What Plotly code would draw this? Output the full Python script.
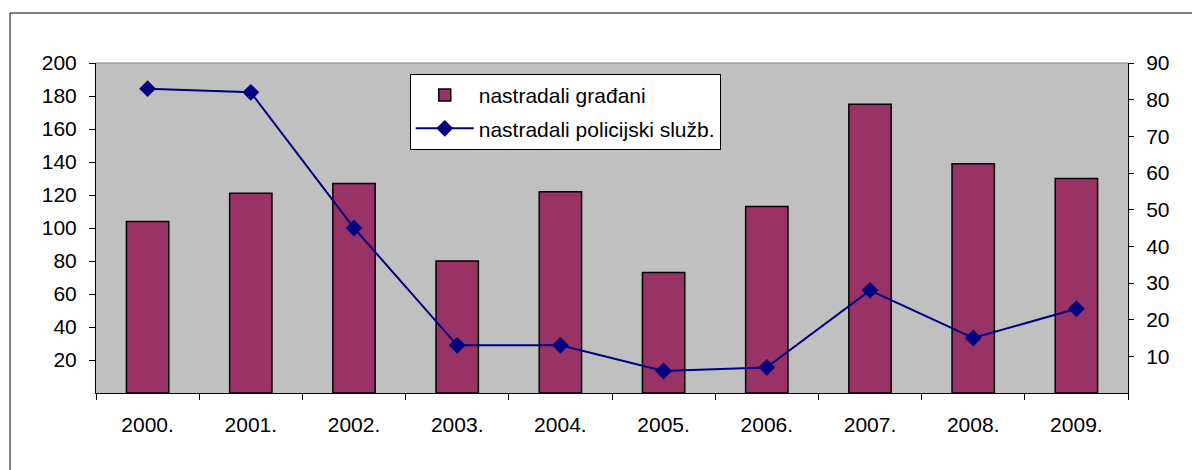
import plotly.graph_objects as go

years = ["2000.", "2001.", "2002.", "2003.", "2004.", "2005.", "2006.", "2007.", "2008.", "2009."]
gradjani = [104, 121, 127, 80, 122, 73, 113, 175, 139, 130]
policija = [83, 82, 45, 13, 13, 6, 7, 28, 15, 23]

left_ticks = [20, 40, 60, 80, 100, 120, 140, 160, 180, 200]
right_ticks = [10, 20, 30, 40, 50, 60, 70, 80, 90]

BAR_COLOR = "#993366"
LINE_COLOR = "#000080"
FONT = "Liberation Sans, Arial, sans-serif"

fig = go.Figure()
fig.add_trace(
    go.Bar(
        x=years,
        y=gradjani,
        name="nastradali građani",
        legendgroup="g",
        marker={"color": BAR_COLOR, "line": {"color": "black", "width": 1.5}},
        yaxis="y",
    )
)
fig.add_trace(
    go.Scatter(
        x=years,
        y=policija,
        name="nastradali policijski služb.",
        legendgroup="p",
        mode="lines+markers",
        line={"color": LINE_COLOR, "width": 2},
        marker={"symbol": "diamond", "size": 13, "color": LINE_COLOR},
        yaxis="y2",
    )
)

axis_font = {"family": FONT, "size": 21, "color": "black"}

# page body has an 8px margin, so margins are shifted by 8px
fig.update_layout(
    width=1200,
    height=470,
    paper_bgcolor="white",
    plot_bgcolor="#C0C0C0",
    margin={"l": 88, "r": 80, "t": 55, "b": 85},
    font=axis_font,
    bargap=0.59,
    showlegend=True,
    legend={
        "x": 0.304,
        "y": 0.967,
        "xanchor": "left",
        "yanchor": "top",
        "bgcolor": "white",
        "bordercolor": "black",
        "borderwidth": 1,
        "font": {"family": FONT, "size": 21, "color": "black"},
        "itemwidth": 58,
        "tracegroupgap": 3,
    },
    xaxis={
        "type": "category",
        "range": [-0.5, len(years) - 0.5],
        "showgrid": False,
        "showline": True,
        "linecolor": "black",
        "linewidth": 1,
        "ticks": "outside",
        "tickson": "boundaries",
        "ticklen": 6,
        "tickcolor": "black",
        "ticklabelstandoff": 13,
        "tickfont": axis_font,
    },
    yaxis={
        "range": [0, 200],
        "tickvals": left_ticks,
        "showgrid": False,
        "zeroline": False,
        "showline": True,
        "linecolor": "black",
        "linewidth": 1,
        "ticks": "outside",
        "ticklen": 6,
        "tickcolor": "black",
        "ticklabelstandoff": 8,
        "tickfont": axis_font,
    },
    yaxis2={
        "range": [0, 90],
        "tickvals": right_ticks,
        "overlaying": "y",
        "side": "right",
        "showgrid": False,
        "zeroline": False,
        "showline": True,
        "linecolor": "black",
        "linewidth": 1,
        "ticks": "outside",
        "ticklen": 5,
        "tickcolor": "black",
        "ticklabelstandoff": 8,
        "tickfont": axis_font,
    },
    shapes=[
        # grey top edge of the plot area
        {"type": "line", "xref": "paper", "yref": "paper",
         "x0": 0, "x1": 1, "y0": 1, "y1": 1,
         "line": {"color": "#808080", "width": 1}},
        # outer chart frame
        {"type": "rect", "xref": "paper", "yref": "paper",
         "x0": -0.0833, "x1": 1.2, "y0": -0.5, "y1": 1.1515,
         "line": {"color": "black", "width": 1}, "layer": "below"},
    ],
)

fig.write_html("out.html")
